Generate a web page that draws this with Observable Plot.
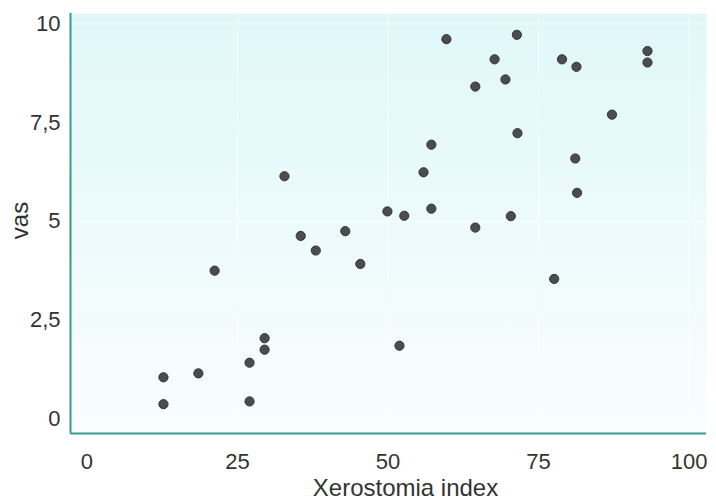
<!DOCTYPE html>
<html>
<head>
<meta charset="utf-8">
<script src="https://cdn.jsdelivr.net/npm/d3@7"></script>
<script src="https://cdn.jsdelivr.net/npm/@observablehq/plot@0.6"></script>
<style>
  html, body { margin: 0; padding: 0; background: #ffffff; }
  #chart { width: 716px; height: 502px; }
</style>
</head>
<body>
<div id="chart"></div>
<script>
// Data
const xerostomia = [12.7, 12.7, 18.5, 21.2, 27.0, 27.0, 29.5, 29.5, 32.8, 35.5, 38.0, 42.9, 45.4, 49.9, 51.9, 52.7, 55.9, 57.2, 57.2, 59.7, 64.5, 64.5, 67.7, 69.5, 71.4, 70.4, 71.5, 77.6, 78.9, 81.3, 81.1, 81.4, 87.2, 93.1, 93.1];
const vas = [1.05, 0.37, 1.15, 3.75, 1.42, 0.44, 2.04, 1.75, 6.14, 4.63, 4.26, 4.75, 3.92, 5.25, 1.85, 5.14, 6.24, 6.94, 5.32, 9.61, 8.41, 4.84, 9.10, 8.59, 9.72, 5.13, 7.23, 3.54, 9.10, 8.91, 6.59, 5.72, 7.70, 9.31, 9.02];
const xTicks = [0, 25, 50, 75, 100];
const yTicks = [0, 2.5, 5, 7.5, 10];
const xDomain = [-2.74, 102.9];
const yDomain = [-0.372, 10.26];
const xLabel = "Xerostomia index";
const yLabel = "vas";

const points = xerostomia.map((x, i) => ({x, y: vas[i]}));
const fmt = d => String(d).replace(".", ",");

const defs = () => {
  const ns = "http://www.w3.org/2000/svg";
  const d = document.createElementNS(ns, "defs");
  d.innerHTML = `<linearGradient id="bgGrad" x1="0" y1="0" x2="0" y2="1">
      <stop offset="0%" stop-color="#e0f7f9"/>
      <stop offset="40%" stop-color="#eafafb"/>
      <stop offset="75%" stop-color="#f3fcfc"/>
      <stop offset="100%" stop-color="#f9fefe"/>
    </linearGradient>`;
  return d;
};

const chart = Plot.plot({
  width: 716,
  height: 502,
  marginLeft: 70,
  marginRight: 10,
  marginTop: 13,
  marginBottom: 69,
  style: {fontFamily: "'Liberation Sans', Arial, Helvetica, sans-serif", fontSize: "22px", color: "#333333", background: "#ffffff"},
  x: {domain: xDomain},
  y: {domain: yDomain},
  marks: [
    defs,
    Plot.frame({fill: "url(#bgGrad)", stroke: null}),
    Plot.gridX(xTicks.slice(1), {stroke: "#ffffff", strokeOpacity: 0.45, strokeWidth: 1.5}),
    Plot.gridY(yTicks.slice(1), {stroke: "#ffffff", strokeOpacity: 0.45, strokeWidth: 1.5}),
    Plot.axisX({ticks: xTicks, tickSize: 0, tickPadding: 20, tickFormat: fmt, label: null, fill: "#333333"}),
    Plot.axisY({ticks: yTicks, tickSize: 0, tickPadding: 10, tickFormat: fmt, label: null, fill: "#333333"}),
    Plot.ruleX([xDomain[0]], {stroke: "#3a9a8d", strokeWidth: 2}),
    Plot.ruleY([yDomain[0]], {stroke: "#3a9a8d", strokeWidth: 2}),
    Plot.dot(points, {x: "x", y: "y", r: 4.6, fill: "#4a4c4d", stroke: "#333535", strokeWidth: 1}),
    Plot.text([xLabel], {text: d => d, frameAnchor: "bottom", dx: 17, dy: 45, lineAnchor: "top", textAnchor: "middle", fontSize: 24, fill: "#333333"}),
    Plot.text([yLabel], {text: d => d, frameAnchor: "left", dx: -50, dy: -3, rotate: -90, textAnchor: "middle", lineAnchor: "middle", fontSize: 24, fill: "#333333"})
  ]
});
document.getElementById("chart").appendChild(chart);
</script>
</body>
</html>
